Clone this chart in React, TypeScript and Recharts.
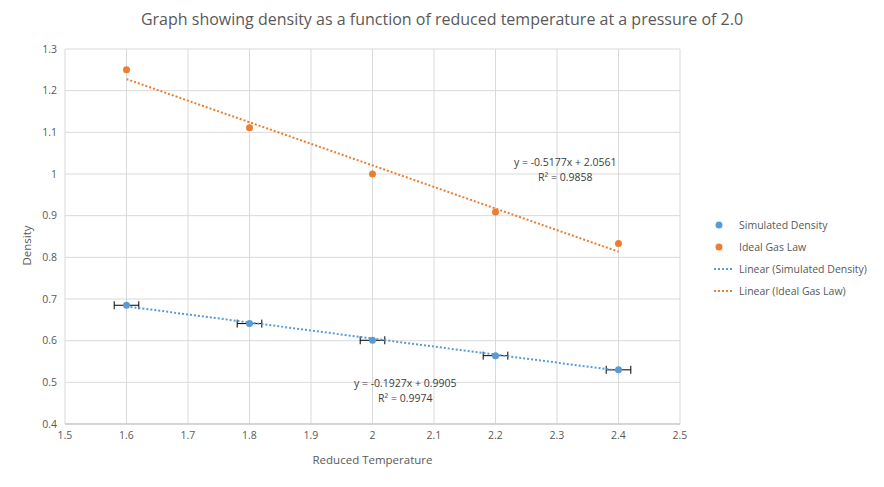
import React from 'react';
import { ComposedChart, Scatter, XAxis, YAxis, CartesianGrid, ErrorBar } from 'recharts';

const temps = [1.6, 1.8, 2.0, 2.2, 2.4];
const simDensity = [0.685, 0.641, 0.601, 0.564, 0.530];
const simErr = [0.02, 0.02, 0.02, 0.02, 0.02];
const idealDensity = [1.25, 1.111, 1.0, 0.909, 0.833];
const trendX = [1.6, 2.4];
const simTrend = [0.6822, 0.528];
const idealTrend = [1.2278, 0.8136];
const xTicks = [1.5, 1.6, 1.7, 1.8, 1.9, 2, 2.1, 2.2, 2.3, 2.4, 2.5];
const yTicks = [0.4, 0.5, 0.6, 0.7, 0.8, 0.9, 1, 1.1, 1.2, 1.3];

const BLUE = '#5b9bd5';
const ORANGE = '#ed7d31';

const simData = temps.map((x, i) => ({ x, y: simDensity[i], e: simErr[i] }));
const idealData = temps.map((x, i) => ({ x, y: idealDensity[i] }));
const simTrendData = trendX.map((x, i) => ({ x, y: simTrend[i] }));
const idealTrendData = trendX.map((x, i) => ({ x, y: idealTrend[i] }));

const font = '"Open Sans", "Noto Sans", sans-serif';
const tick = { fontSize: 10.5, fill: '#595959', fontFamily: font };
const txt: React.CSSProperties = { position: 'absolute', fontFamily: font, fontSize: 10.5, color: '#404040', whiteSpace: 'nowrap', lineHeight: '15px' };

export default function App() {
  return (
    <div style={{ margin: -8, position: 'relative', width: 884, height: 487, background: '#fff' }}>
      <div style={{ position: 'absolute', inset: 0, border: '1px solid #d9d9d9', boxSizing: 'border-box' }} />
      <div style={{ ...txt, fontSize: 16, lineHeight: '20px', color: '#595959', top: 9, left: 0, width: 884, textAlign: 'center' }}>
        Graph showing density as a function of reduced temperature at a pressure of 2.0
      </div>
      <ComposedChart width={884} height={487} margin={{ top: 49, right: 204, left: 20, bottom: 30 }}>
        <CartesianGrid stroke="#d9d9d9" />
        <XAxis type="number" dataKey="x" domain={[1.5, 2.5]} ticks={xTicks} height={33} tick={tick}
          tickFormatter={(v) => String(v)} stroke="#bfbfbf" tickLine={false} allowDuplicatedCategory={false} />
        <YAxis type="number" dataKey="y" domain={[0.4, 1.3]} ticks={yTicks} width={45} tick={tick}
          tickFormatter={(v) => String(v)} axisLine={false} tickLine={false} />
        <Scatter data={simTrendData} fill="none" line={{ stroke: BLUE, strokeWidth: 2, strokeDasharray: '2 2' }} shape={() => null} isAnimationActive={false} />
        <Scatter data={idealTrendData} fill="none" line={{ stroke: ORANGE, strokeWidth: 2, strokeDasharray: '2 2' }} shape={() => null} isAnimationActive={false} />
        <Scatter data={simData} fill={BLUE} isAnimationActive={false}
          shape={(p: any) => <circle cx={p.cx} cy={p.cy} r={3.5} fill={BLUE} />}>
          <ErrorBar dataKey="e" direction="x" width={4} stroke="#000" strokeWidth={1} />
        </Scatter>
        <Scatter data={idealData} fill={ORANGE} isAnimationActive={false}
          shape={(p: any) => <circle cx={p.cx} cy={p.cy} r={3.5} fill={ORANGE} />} />
      </ComposedChart>
      <div style={{ ...txt, top: 452, left: 0, width: 745, textAlign: 'center', fontSize: 11.5, color: '#595959' }}>Reduced Temperature</div>
      <div style={{ ...txt, top: 238, left: 6, fontSize: 11.5, color: '#595959', transform: 'rotate(-90deg)' }}>Density</div>
      <div style={{ ...txt, top: 155, left: 514, textAlign: 'center' }}>y = -0.5177x + 2.0561<br />R² = 0.9858</div>
      <div style={{ ...txt, top: 376, left: 354, textAlign: 'center' }}>y = -0.1927x + 0.9905<br />R² = 0.9974</div>
      <div style={{ position: 'absolute', left: 714, top: 214 }}>
        {[
          { c: BLUE, l: 'Simulated Density', dot: true },
          { c: ORANGE, l: 'Ideal Gas Law', dot: true },
          { c: BLUE, l: 'Linear (Simulated Density)', dot: false },
          { c: ORANGE, l: 'Linear (Ideal Gas Law)', dot: false },
        ].map((it, i) => (
          <div key={i} style={{ display: 'flex', alignItems: 'center', height: 22, fontFamily: font, fontSize: 10.5, color: '#595959' }}>
            <svg width={22} height={10} style={{ marginRight: 3 }}>
              {it.dot ? <circle cx={5} cy={5} r={3.5} fill={it.c} />
                : <line x1={0} y1={5} x2={20} y2={5} stroke={it.c} strokeWidth={2} strokeDasharray="2 2" />}
            </svg>
            {it.l}
          </div>
        ))}
      </div>
    </div>
  );
}
